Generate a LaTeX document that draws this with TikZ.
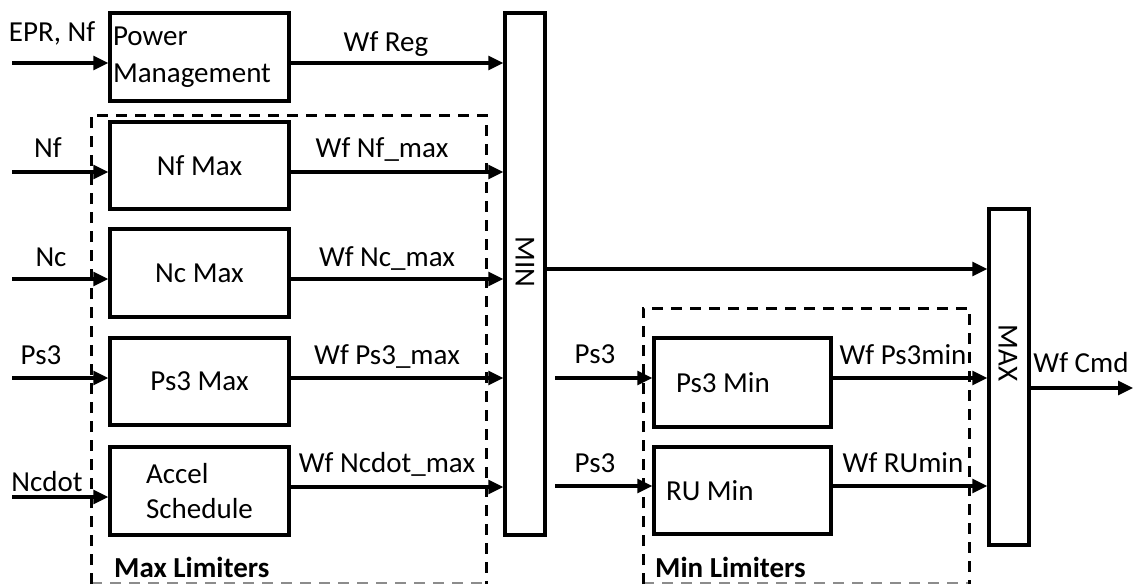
\documentclass[tikz,border=0pt]{standalone}
\usepackage{fontspec}
\setmainfont{Carlito}
\usetikzlibrary{arrows.meta}
\begin{document}
\begin{tikzpicture}[x=1pt,y=-1pt,
  box/.style={draw, line width=3.5pt, inner sep=0pt, font=\fontsize{29}{37}\selectfont},
  arr/.style={line width=3.2pt, -{Triangle[length=15pt,width=14pt]}},
  lbl/.style={font=\fontsize{29}{36}\selectfont, inner sep=0pt, anchor=base},
  grp/.style={draw, line width=3pt, dash pattern=on 11pt off 8pt},
  grpb/.style={draw=black!45, line width=2pt, dash pattern=on 11pt off 8pt},
]
\useasboundingbox (0,0) rectangle (1135,584);

% groups
\draw[grpb] (91,583) -- (486,583);
\draw[grp] (91,584) -- (91,115) -- (486,115) -- (486,584);
\draw[grpb] (643,583) -- (969,583);
\draw[grp] (643,584) -- (643,308) -- (969,308) -- (969,584);
\node[lbl, anchor=base west, font=\fontsize{29}{36}\selectfont\bfseries] (maxlim) at (114,577) {Max Limiters};
\node[lbl, anchor=base west, font=\fontsize{29}{36}\selectfont\bfseries] (minlim) at (655,577) {Min Limiters};

% boxes
\node[box, minimum width=179pt, minimum height=88pt, align=flush left, text width=173pt, inner xsep=3pt] (pm) at (199.5,57) {Power\\Management};
\node[box, minimum width=179pt, minimum height=87pt] (nfmax) at (199.5,165.5) {Nf Max};
\node[box, minimum width=179pt, minimum height=88pt] (ncmax) at (199.5,273) {Nc Max};
\node[box, minimum width=179pt, minimum height=87pt] (psmax) at (199.5,381.5) {Ps3 Max};
\node[box, minimum width=179pt, minimum height=88pt, align=flush left, font=\fontsize{29}{35}\selectfont] (accel) at (199.5,491) {Accel\\Schedule};
\node[box, minimum width=40pt, minimum height=522pt] (min) at (525,274) {};
\node[lbl, anchor=center, rotate=-90] (mintxt) at (525,262) {MIN};
\node[box, minimum width=177pt, minimum height=89pt, align=flush left, text width=133pt, inner xsep=22pt] (psmin) at (742.5,382.5) {Ps3 Min};
\node[box, minimum width=177pt, minimum height=87pt, align=flush left, text width=153pt, inner xsep=12pt] (rumin) at (742.5,490.5) {RU Min};
\node[box, minimum width=40pt, minimum height=336pt] (max) at (1009,377) {};
\node[lbl, anchor=center, rotate=-90] (maxtxt) at (1008,353) {MAX};

% input coordinates
\coordinate (iPM) at (12,63);
\coordinate (iNf) at (12,172);
\coordinate (iNc) at (12,279);
\coordinate (iPs) at (12,378);
\coordinate (iNd) at (12,497);
\coordinate (iP1) at (555,378);
\coordinate (iP2) at (555,486);
\coordinate (oCmd) at (1133,388);
\coordinate (yReg) at (0,63);
\coordinate (yNf) at (0,172);
\coordinate (yNc) at (0,279);
\coordinate (yPs) at (0,378);
\coordinate (yNd) at (0,487);
\coordinate (yMin) at (0,269);
\coordinate (yP1) at (0,378);
\coordinate (yP2) at (0,486);

% inputs
\draw[arr] (iPM) -- (iPM -| pm.west);
\draw[arr] (iNf) -- (iNf -| nfmax.west);
\draw[arr] (iNc) -- (iNc -| ncmax.west);
\draw[arr] (iPs) -- (iPs -| psmax.west);
\draw[arr] (iNd) -- (iNd -| accel.west);
\draw[arr] (iP1) -- (iP1 -| psmin.west);
\draw[arr] (iP2) -- (iP2 -| rumin.west);

% to MIN
\draw[arr] (pm.east |- yReg) -- (min.west |- yReg);
\draw[arr] (nfmax.east |- yNf) -- (min.west |- yNf);
\draw[arr] (ncmax.east |- yNc) -- (min.west |- yNc);
\draw[arr] (psmax.east |- yPs) -- (min.west |- yPs);
\draw[arr] (accel.east |- yNd) -- (min.west |- yNd);

% to MAX
\draw[arr] (min.east |- yMin) -- (max.west |- yMin);
\draw[arr] (psmin.east |- yP1) -- (max.west |- yP1);
\draw[arr] (rumin.east |- yP2) -- (max.west |- yP2);
\draw[arr] (max.east |- oCmd) -- (oCmd);

% labels
\node[lbl] (lEPR) at (52,41) {EPR, Nf};
\node[lbl] (lReg) at (386,51) {Wf Reg};
\node[lbl] (lNf) at (48,157) {Nf};
\node[lbl] (lNfm) at (382,157) {Wf Nf\_max};
\node[lbl] (lNc) at (51,266) {Nc};
\node[lbl] (lNcm) at (387,266) {Wf Nc\_max};
\node[lbl] (lPs) at (41,364) {Ps3};
\node[lbl] (lPsm) at (387,364) {Wf Ps3\_max};
\node[lbl] (lNd) at (47,491) {Ncdot};
\node[lbl] (lNdm) at (387,472) {Wf Ncdot\_max};
\node[lbl] (lP1) at (595,363) {Ps3};
\node[lbl] (lP2) at (595,472) {Ps3};
\node[lbl] (lPsmin) at (903,364) {Wf Ps3min};
\node[lbl] (lRU) at (903,472) {Wf RUmin};
\node[lbl] (lCmd) at (1081,372) {Wf Cmd};
\end{tikzpicture}
\end{document}
